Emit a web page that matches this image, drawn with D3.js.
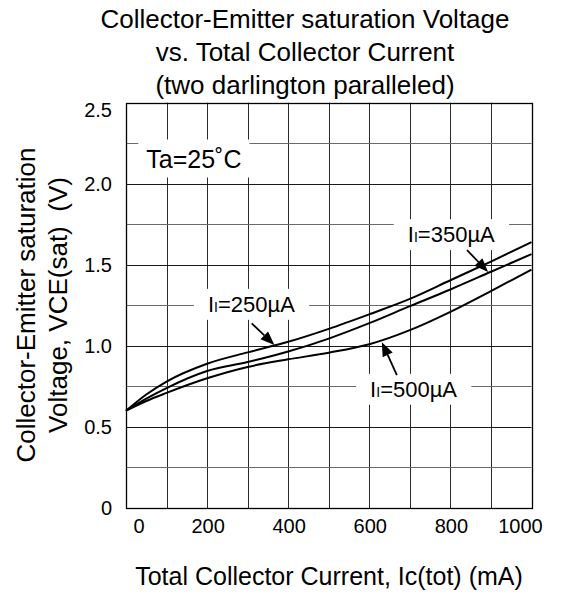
<!DOCTYPE html>
<html>
<head>
<meta charset="utf-8">
<script src="https://cdn.jsdelivr.net/npm/d3@7"></script>
<style>
  body { margin: 0; background: #fff; }
  svg { display: block; font-family: "Liberation Sans", Arial, sans-serif; }
</style>
</head>
<body>
<svg id="chart" width="561" height="595"></svg>
<script>
// collector current (mA) where the curves were read
var currentMA = [0, 50, 100, 200, 300, 400, 500, 600, 700, 800, 900, 1000];
// VCE(sat) in volts for each input current
var vce250 = [0.60, 0.70, 0.78, 0.89, 0.96, 1.025, 1.105, 1.195, 1.29, 1.405, 1.52, 1.64];
var vce350 = [0.60, 0.675, 0.74, 0.845, 0.90, 0.965, 1.045, 1.14, 1.245, 1.348, 1.457, 1.566];
var vce500 = [0.60, 0.66, 0.71, 0.80, 0.87, 0.917, 0.958, 1.01, 1.097, 1.21, 1.338, 1.471];

var xTicks = [0, 200, 400, 600, 800, 1000];
var yTicks = [0, 0.5, 1.0, 1.5, 2.0, 2.5];
var yTickText = ["0", "0.5", "1.0", "1.5", "2.0", "2.5"];

var titleLines = ["Collector-Emitter saturation Voltage", "vs. Total Collector Current", "(two darlington paralleled)"];
var yTitleLines = ["Collector-Emitter saturation", "Voltage, VCE(sat)  (V)"];
var xTitle = "Total Collector Current, Ic(tot) (mA)";

// labels: text position (mA, V) and arrow from -> tip
var curveLabels = [
  {sub: "=250µA", at: [202, 1.21], from: [310, 1.139], to: [366, 1.005]},
  {sub: "=350µA", at: [695, 1.64], from: [841, 1.591], to: [893, 1.455]},
  {sub: "=500µA", at: [602, 0.686], from: [668, 0.82], to: [631, 1.023]}
];

var svg = d3.select("#chart");
var x = d3.scaleLinear().domain([0, 1000]).range([126, 531.5]);
var y = d3.scaleLinear().domain([0, 2.5]).range([508, 102.7]);
var crisp = function(v) { return Math.round(v) + 0.5; };

// grid
var grid = svg.append("g");
d3.range(100, 1000, 100).forEach(function(d) {
  grid.append("line")
    .attr("x1", crisp(x(d))).attr("x2", crisp(x(d)))
    .attr("y1", y(2.5)).attr("y2", y(0))
    .attr("stroke", "#2a2a2a").attr("stroke-width", 1);
});
d3.range(0.25, 2.5, 0.25).forEach(function(d) {
  var major = Math.abs(d * 2 - Math.round(d * 2)) < 1e-6;
  grid.append("line")
    .attr("x1", x(0)).attr("x2", x(1000))
    .attr("y1", crisp(y(d))).attr("y2", crisp(y(d)))
    .attr("stroke", major ? "#1a1a1a" : "#6a6a6a").attr("stroke-width", 1);
});

// white boxes behind labels (they cut the grid)
var boxes = svg.append("g");
var labels = svg.append("g");

function boxed(sel, padX, padY) {
  var b = sel.node().getBBox();
  boxes.append("rect")
    .attr("x", b.x - padX).attr("y", b.y - padY)
    .attr("width", b.width + padX * 2).attr("height", b.height + padY * 2)
    .attr("fill", "#fff");
}

var ta = labels.append("text")
  .attr("x", x(50)).attr("y", y(2.1))
  .attr("font-size", 25)
  .text("Ta=25˚C");
boxed(ta, 8, 5);

curveLabels.forEach(function(c) {
  var t = labels.append("text")
    .attr("x", x(c.at[0])).attr("y", y(c.at[1]))
    .attr("font-size", 22);
  t.append("tspan").text("I");
  t.append("tspan").attr("font-size", 14).text("I");
  t.append("tspan").text(c.sub);
  boxed(t, 14, 3);

  var x0 = x(c.from[0]), y0 = y(c.from[1]);
  var x1 = x(c.to[0]), y1 = y(c.to[1]);
  var ang = Math.atan2(y1 - y0, x1 - x0);
  var len = 14, half = 5.5;
  var bx = x1 - len * Math.cos(ang), by = y1 - len * Math.sin(ang);
  labels.append("line")
    .attr("x1", x0).attr("y1", y0).attr("x2", bx).attr("y2", by)
    .attr("stroke", "#000").attr("stroke-width", 1.8);
  labels.append("path")
    .attr("d", "M" + x1 + "," + y1 +
      "L" + (bx + half * Math.sin(ang)) + "," + (by - half * Math.cos(ang)) +
      "L" + (bx - half * Math.sin(ang)) + "," + (by + half * Math.cos(ang)) + "Z")
    .attr("fill", "#000");
});

// curves
var line = d3.line()
  .x(function(d, i) { return x(currentMA[i]); })
  .y(function(d) { return y(d); })
  .curve(d3.curveMonotoneX);

[vce250, vce350, vce500].forEach(function(s) {
  svg.append("path")
    .attr("d", line(s))
    .attr("fill", "none")
    .attr("stroke", "#000")
    .attr("stroke-width", 2);
});

// frame
svg.append("rect")
  .attr("x", crisp(x(0))).attr("y", crisp(y(2.5)))
  .attr("width", Math.round(x(1000) - x(0))).attr("height", Math.round(y(0) - y(2.5)))
  .attr("fill", "none").attr("stroke", "#000").attr("stroke-width", 1.3);

// tick labels
svg.append("g").selectAll("text")
  .data(xTicks).join("text")
  .attr("x", function(d) { return x(d) + (d === 0 ? 13 : d === 1000 ? -11 : 1); })
  .attr("y", 533)
  .attr("text-anchor", "middle")
  .attr("font-size", 20)
  .text(function(d) { return d; });

svg.append("g").selectAll("text")
  .data(yTicks).join("text")
  .attr("x", 112)
  .attr("y", function(d) { return y(d) + (d === 2.5 ? 7 : 0); })
  .attr("dy", "0.35em")
  .attr("text-anchor", "end")
  .attr("font-size", 20)
  .text(function(d, i) { return yTickText[i]; });

// titles
svg.append("g").selectAll("text")
  .data(titleLines).join("text")
  .attr("x", 305)
  .attr("y", function(d, i) { return 28 + i * 33; })
  .attr("text-anchor", "middle")
  .attr("font-size", 26)
  .text(function(d) { return d; });

svg.append("g").selectAll("text")
  .data(yTitleLines).join("text")
  .attr("transform", function(d, i) { return "translate(" + (35 + i * 32) + ",305) rotate(-90)"; })
  .attr("text-anchor", "middle")
  .attr("font-size", 26)
  .style("white-space", "pre")
  .text(function(d) { return d; });

svg.append("text")
  .attr("x", 329).attr("y", 585)
  .attr("text-anchor", "middle")
  .attr("font-size", 25)
  .text(xTitle);
</script>
</body>
</html>
